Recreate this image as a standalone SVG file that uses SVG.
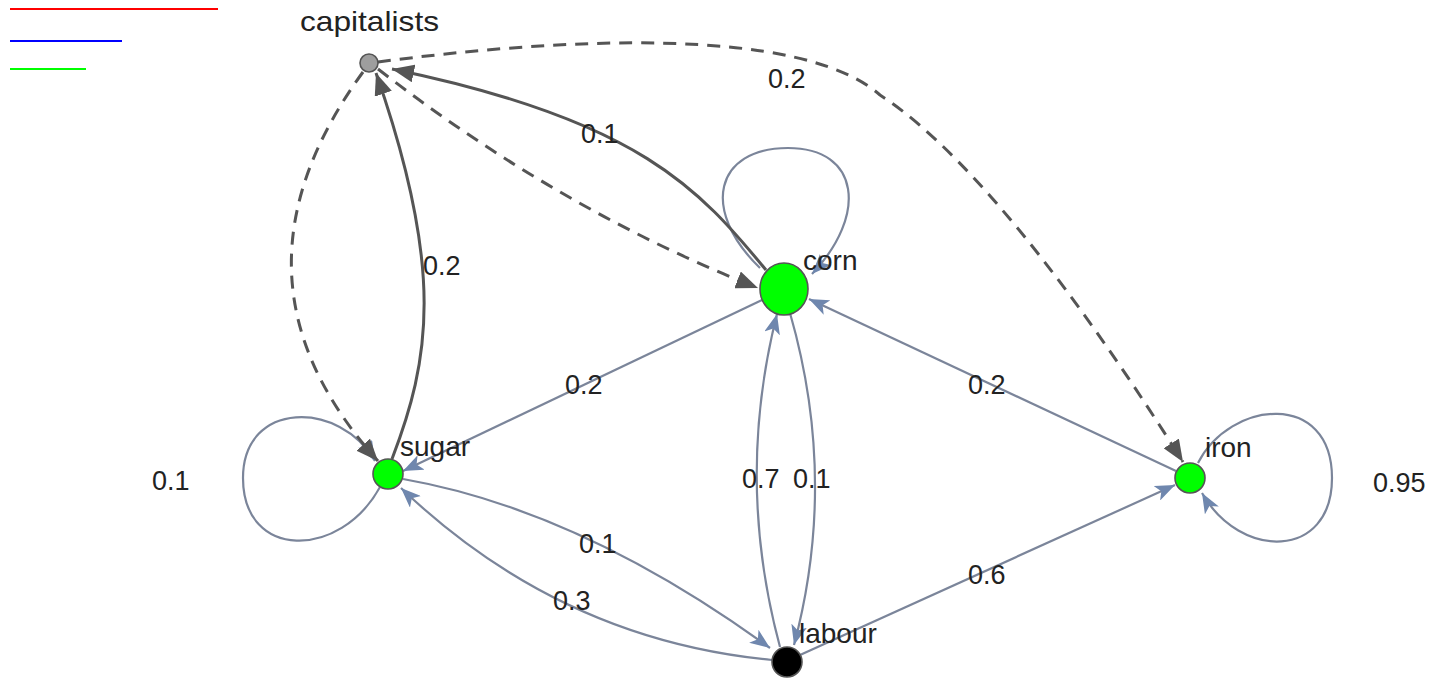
<svg xmlns="http://www.w3.org/2000/svg" width="1436" height="679" viewBox="0 0 1436 679">
  <style>
    .flow { fill: none; stroke: #7b859a; stroke-width: 2.2; }
    .own { fill: none; stroke: #555555; stroke-width: 3; stroke-linecap: butt; }
    .dash { stroke-dasharray: 13 9; }
    .node { stroke: #555555; stroke-width: 1.6; }
    .lbl { font-family: "Liberation Sans", Arial, sans-serif; font-size: 28px; fill: #222222; }
    .val { font-family: "Liberation Sans", Arial, sans-serif; font-size: 27px; fill: #222222; }
    .key { stroke-width: 2; }
  </style>
  <defs>
    <marker id="headDark" markerUnits="userSpaceOnUse" markerWidth="24" markerHeight="18" refX="22" refY="9" orient="auto">
      <path d="M0,0 L22,9 L0,18 Z" fill="#555555"/>
    </marker>
    <marker id="headFlow" markerUnits="userSpaceOnUse" markerWidth="22" markerHeight="16" refX="20" refY="8" orient="auto">
      <path d="M0,0 L20,8 L0,16 L5,8 Z" fill="#6f87ae"/>
    </marker>
  </defs>

  <rect width="1436" height="679" fill="#ffffff"/>

  <!-- key lines -->
  <g id="key">
    <line class="key" x1="10" y1="9" x2="218" y2="9" stroke="#ff0000"/>
    <line class="key" x1="10" y1="41" x2="122" y2="41" stroke="#0000ff"/>
    <line class="key" x1="10" y1="69" x2="86" y2="69" stroke="#00ff00"/>
  </g>

  <g id="connectors">
    <!-- commodity flows -->
    <path class="flow" d="M760,268 C700,210 715,148 788,148 C860,148 868,215 812,274" marker-end="url(#headFlow)"/>
    <path class="flow" d="M380,487 C340,560 243,560 243,478 C243,400 340,400 375,461" marker-end="url(#headFlow)"/>
    <path class="flow" d="M1198,463 C1230,400 1332,390 1332,478 C1332,560 1240,560 1202,493" marker-end="url(#headFlow)"/>
    <path class="flow" d="M762,300 L403,471" marker-end="url(#headFlow)"/>
    <path class="flow" d="M1176,471 L809,299" marker-end="url(#headFlow)"/>
    <path class="flow" d="M800,655 L1175,485" marker-end="url(#headFlow)"/>
    <path class="flow" d="M780,647 Q735,480 777,314" marker-end="url(#headFlow)"/>
    <path class="flow" d="M790,313 Q838,480 794,645" marker-end="url(#headFlow)"/>
    <path class="flow" d="M403,479 Q580,510 770,648" marker-end="url(#headFlow)"/>
    <path class="flow" d="M772,660 Q560,640 401,488" marker-end="url(#headFlow)"/>

    <!-- ownership links -->
    <path class="own" d="M392,459 C430,360 445,270 376,73" marker-end="url(#headDark)"/>
    <path class="own" d="M766,270 C700,190 640,120 392,69" marker-end="url(#headDark)"/>
    <path class="own dash" d="M378,69 Q560,210 758,288" marker-end="url(#headDark)"/>
    <path class="own dash" d="M363,72 C270,200 260,330 378,461" marker-end="url(#headDark)"/>
    <path class="own dash" d="M378,62 C560,38 800,25 880,95 C980,160 1100,330 1183,462" marker-end="url(#headDark)"/>
  </g>

  <g id="values">
    <text class="val" x="768" y="88">0.2</text>
    <text class="val" x="581" y="143" fill="#000000">0.1</text>
    <text class="val" x="423" y="275" fill="#000000">0.2</text>
    <text class="val" x="565" y="394">0.2</text>
    <text class="val" x="968" y="394">0.2</text>
    <text class="val" x="742" y="488">0.7</text>
    <text class="val" x="793" y="488">0.1</text>
    <text class="val" x="152" y="490">0.1</text>
    <text class="val" x="1373" y="492">0.95</text>
    <text class="val" x="579" y="553">0.1</text>
    <text class="val" x="553" y="610">0.3</text>
    <text class="val" x="968" y="584">0.6</text>
  </g>

  <g id="capitalists">
    <circle class="node" cx="369" cy="63" r="9" fill="#9e9e9e"/>
    <text class="lbl" x="300" y="31" fill="#000000" textLength="139" lengthAdjust="spacingAndGlyphs">capitalists</text>
  </g>
  <g id="corn">
    <ellipse class="node" cx="784" cy="289" rx="24" ry="26" fill="#00ff00"/>
    <text class="lbl" x="803" y="270">corn</text>
  </g>
  <g id="sugar">
    <circle class="node" cx="388" cy="474" r="15" fill="#00ff00"/>
    <text class="lbl" x="400" y="456">sugar</text>
  </g>
  <g id="iron">
    <circle class="node" cx="1190" cy="478" r="15" fill="#00ff00"/>
    <text class="lbl" x="1205" y="457">iron</text>
  </g>
  <g id="labour">
    <circle class="node" cx="787" cy="662" r="15" fill="#000000"/>
    <text class="lbl" x="799" y="643">labour</text>
  </g>
</svg>
